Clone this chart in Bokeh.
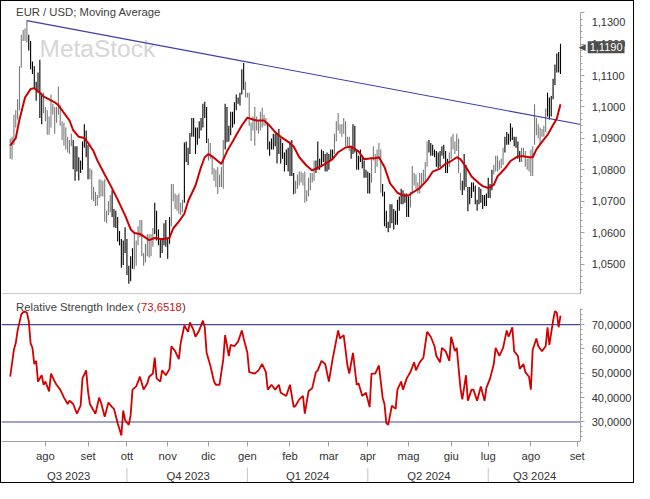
import numpy as np
import pandas as pd
from bokeh.plotting import figure
from bokeh.layouts import column
from bokeh.models import Range1d, FixedTicker, LinearAxis, Label, ColumnDataSource
from bokeh.core.properties import value
from bokeh.embed import file_html
from bokeh.resources import INLINE

# ---------------- data ----------------
CAL_START = "2023-07-03"      # trading-day counter origin
BAR_FIRST = "2023-07-05"
BAR_LAST = "2024-08-23"

high = [
    # Jul 2023
    1.0900, 1.0905, 1.0975, 1.0990, 1.1025, 1.1130, 1.1230, 1.1245, 1.1250, 1.1276,
    1.1230, 1.1210, 1.1145, 1.1130, 1.1080, 1.1110, 1.1150, 1.1045, 1.1045,
    # Aug 2023
    1.1000, 1.0990, 1.0970, 1.1040, 1.1010, 1.1000, 1.1000, 1.1065, 1.1005, 1.0955,
    1.0950, 1.0935, 1.0905, 1.0895, 1.0915, 1.0895, 1.0875, 1.0875, 1.0840, 1.0830,
    1.0890, 1.0945, 1.0925,
    # Sep 2023
    1.0880, 1.0805, 1.0800, 1.0745, 1.0730, 1.0720, 1.0770, 1.0768, 1.0765, 1.0770,
    1.0670, 1.0700, 1.0720, 1.0735, 1.0675, 1.0670, 1.0650, 1.0605, 1.0580, 1.0575,
    1.0617,
    # Oct 2023
    1.0580, 1.0495, 1.0525, 1.0550, 1.0600, 1.0575, 1.0620, 1.0640, 1.0640, 1.0535,
    1.0565, 1.0595, 1.0595, 1.0595, 1.0615, 1.0695, 1.0670, 1.0610, 1.0580, 1.0580,
    1.0630, 1.0640,
    # Nov 2023
    1.0580, 1.0650, 1.0755, 1.0755, 1.0725, 1.0720, 1.0725, 1.0695, 1.0705, 1.0887,
    1.0890, 1.0870, 1.0917, 1.0965, 1.0965, 1.0935, 1.0935, 1.0955, 1.0965, 1.1010,
    1.1017, 1.1000,
    # Dec 2023
    1.0900, 1.0885, 1.0845, 1.0805, 1.0800, 1.0810, 1.0785, 1.0810, 1.0895, 1.1010,
    1.1000, 1.0940, 1.0985, 1.0985, 1.1015, 1.1040, 1.1030, 1.1045, 1.1120, 1.1140,
    1.1080,
    # Jan 2024
    1.1045, 1.1045, 1.0950, 1.0970, 1.1000, 1.0970, 1.0955, 1.0985, 1.0998, 1.0975,
    1.0965, 1.0950, 1.0890, 1.0900, 1.0915, 1.0915, 1.0915, 1.0930, 1.0900, 1.0885,
    1.0855, 1.0865, 1.0870,
    # Feb 2024
    1.0890, 1.0895, 1.0790, 1.0765, 1.0785, 1.0795, 1.0795, 1.0790, 1.0795, 1.0735,
    1.0775, 1.0790, 1.0790, 1.0830, 1.0830, 1.0890, 1.0835, 1.0865, 1.0860, 1.0850,
    1.0855,
    # Mar 2024
    1.0850, 1.0865, 1.0865, 1.0915, 1.0955, 1.0981, 1.0945, 1.0945, 1.0965, 1.0955,
    1.0905, 1.0905, 1.0875, 1.0945, 1.0940, 1.0865, 1.0845, 1.0865, 1.0840, 1.0830,
    1.0800,
    # Apr 2024
    1.0795, 1.0790, 1.0840, 1.0875, 1.0850, 1.0865, 1.0885, 1.0865, 1.0755, 1.0730,
    1.0670, 1.0635, 1.0690, 1.0690, 1.0675, 1.0670, 1.0705, 1.0715, 1.0740, 1.0735,
    1.0725, 1.0725,
    # May 2024
    1.0715, 1.0730, 1.0812, 1.0790, 1.0785, 1.0760, 1.0790, 1.0790, 1.0800, 1.0825,
    1.0890, 1.0895, 1.0885, 1.0880, 1.0865, 1.0860, 1.0855, 1.0860, 1.0875, 1.0880,
    1.0860, 1.0835, 1.0855,
    # Jun 2024
    1.0905, 1.0915, 1.0890, 1.0915, 1.0900, 1.0790, 1.0765, 1.0850, 1.0815, 1.0745,
    1.0745, 1.0760, 1.0760, 1.0750, 1.0705, 1.0745, 1.0740, 1.0720, 1.0720, 1.0725,
    # Jul 2024
    1.0775, 1.0755, 1.0800, 1.0815, 1.0845, 1.0845, 1.0830, 1.0835, 1.0870, 1.0905,
    1.0920, 1.0915, 1.0948, 1.0935, 1.0905, 1.0905, 1.0890, 1.0860, 1.0870, 1.0870,
    1.0860, 1.0835, 1.0835,
    # Aug 2024
    1.0865, 1.0875, 1.1009, 1.0965, 1.0945, 1.0935, 1.0930, 1.0940, 1.0995, 1.1045,
    1.1030, 1.1035, 1.1090, 1.1135, 1.1170, 1.1175, 1.1201,
]

low = [
    # Jul 2023
    1.0835, 1.0833, 1.0880, 1.0935, 1.0960, 1.0990, 1.1125, 1.1210, 1.1210, 1.1205,
    1.1180, 1.1120, 1.1105, 1.1060, 1.1020, 1.1045, 1.0965, 1.0945, 1.0980,
    # Aug 2023
    1.0955, 1.0912, 1.0912, 1.0935, 1.0975, 1.0915, 1.0950, 1.0975, 1.0940, 1.0895,
    1.0877, 1.0865, 1.0855, 1.0850, 1.0875, 1.0802, 1.0765, 1.0795, 1.0766, 1.0790,
    1.0800, 1.0870, 1.0840,
    # Sep 2023
    1.0770, 1.0770, 1.0705, 1.0700, 1.0685, 1.0686, 1.0710, 1.0715, 1.0715, 1.0635,
    1.0630, 1.0655, 1.0665, 1.0650, 1.0617, 1.0615, 1.0572, 1.0560, 1.0488, 1.0497,
    1.0535,
    # Oct 2023
    1.0465, 1.0437, 1.0445, 1.0485, 1.0483, 1.0495, 1.0560, 1.0585, 1.0525, 1.0495,
    1.0505, 1.0525, 1.0520, 1.0525, 1.0555, 1.0595, 1.0575, 1.0560, 1.0520, 1.0535,
    1.0560, 1.0555,
    # Nov 2023
    1.0517, 1.0565, 1.0620, 1.0700, 1.0675, 1.0670, 1.0660, 1.0656, 1.0665, 1.0695,
    1.0825, 1.0815, 1.0850, 1.0905, 1.0905, 1.0850, 1.0880, 1.0900, 1.0925, 1.0935,
    1.0965, 1.0885,
    # Dec 2023
    1.0830, 1.0835, 1.0785, 1.0765, 1.0745, 1.0723, 1.0745, 1.0745, 1.0740, 1.0865,
    1.0888, 1.0890, 1.0910, 1.0935, 1.0945, 1.0990, 1.1010, 1.1005, 1.1040, 1.1055,
    1.1030,
    # Jan 2024
    1.1030, 1.0940, 1.0892, 1.0925, 1.0877, 1.0925, 1.0915, 1.0925, 1.0935, 1.0940,
    1.0940, 1.0865, 1.0845, 1.0865, 1.0865, 1.0875, 1.0820, 1.0850, 1.0820, 1.0835,
    1.0795, 1.0815, 1.0795,
    # Feb 2024
    1.0780, 1.0780, 1.0722, 1.0725, 1.0740, 1.0750, 1.0760, 1.0750, 1.0695, 1.0700,
    1.0715, 1.0735, 1.0760, 1.0765, 1.0790, 1.0800, 1.0800, 1.0810, 1.0825, 1.0795,
    1.0795,
    # Mar 2024
    1.0800, 1.0830, 1.0835, 1.0850, 1.0890, 1.0925, 1.0915, 1.0905, 1.0915, 1.0875,
    1.0875, 1.0860, 1.0835, 1.0850, 1.0855, 1.0800, 1.0800, 1.0825, 1.0805, 1.0775,
    1.0775,
    # Apr 2024
    1.0725, 1.0725, 1.0760, 1.0830, 1.0790, 1.0810, 1.0835, 1.0727, 1.0715, 1.0620,
    1.0615, 1.0601, 1.0615, 1.0630, 1.0610, 1.0625, 1.0625, 1.0670, 1.0690, 1.0690,
    1.0695, 1.0650,
    # May 2024
    1.0650, 1.0680, 1.0725, 1.0750, 1.0740, 1.0725, 1.0725, 1.0750, 1.0760, 1.0765,
    1.0810, 1.0855, 1.0845, 1.0845, 1.0840, 1.0810, 1.0805, 1.0810, 1.0845, 1.0835,
    1.0790, 1.0790, 1.0810,
    # Jun 2024
    1.0835, 1.0865, 1.0850, 1.0860, 1.0790, 1.0735, 1.0720, 1.0735, 1.0745, 1.0668,
    1.0690, 1.0710, 1.0730, 1.0690, 1.0670, 1.0690, 1.0695, 1.0675, 1.0685, 1.0685,
    # Jul 2024
    1.0710, 1.0710, 1.0735, 1.0785, 1.0795, 1.0795, 1.0800, 1.0805, 1.0815, 1.0855,
    1.0880, 1.0880, 1.0890, 1.0895, 1.0875, 1.0870, 1.0835, 1.0825, 1.0825, 1.0840,
    1.0810, 1.0800, 1.0795,
    # Aug 2024
    1.0780, 1.0780, 1.0880, 1.0910, 1.0900, 1.0880, 1.0905, 1.0905, 1.0920, 1.0970,
    1.0960, 1.0970, 1.1025, 1.1070, 1.1110, 1.1110, 1.1105,
]

# bar shading as runs (g = grey, k = black), in bar order
tone_runs = [("g", 10), ("k", 8), ("g", 16), ("k", 9), ("g", 12), ("k", 12), ("g", 11),
             ("k", 9), ("g", 7), ("k", 13), ("g", 9), ("k", 11), ("g", 12), ("k", 15),
             ("g", 11), ("k", 10), ("g", 9), ("k", 11), ("g", 6), ("k", 15), ("g", 10),
             ("k", 11), ("g", 7), ("k", 17), ("g", 6), ("k", 9), ("g", 14), ("k", 8)]

# moving average (trading-day number, value)
ma_day = [2, 5, 7, 10, 13, 15, 18, 20, 23, 26, 28, 31, 34, 36, 39, 42, 44, 47, 49, 53,
          56, 60, 64, 67, 69, 72, 75, 77, 80, 83, 85, 88, 90, 93, 96, 98, 102, 105, 107, 109,
          111, 114, 116, 119, 122, 124, 127, 130, 133, 135, 139, 142, 145, 148, 152, 155, 158, 162, 165, 169,
          172, 176, 179, 183, 186, 190, 193, 197, 199, 201, 204, 207, 211, 214, 217, 219, 223, 227, 230, 234,
          237, 240, 243, 245, 248, 251, 255, 257, 260, 263, 265, 269, 272, 276, 279, 282, 284, 286, 289, 292,
          294, 297, 299]
ma_val = [1.0877, 1.0901, 1.0960, 1.1030, 1.1057, 1.1060, 1.1045, 1.1033, 1.1024, 1.1015,
          1.1006, 1.0981, 1.0957, 1.0926, 1.0905, 1.0901, 1.0886, 1.0859, 1.0830, 1.0785,
          1.0752, 1.0705, 1.0655, 1.0611, 1.0599, 1.0596, 1.0584, 1.0576, 1.0583, 1.0580,
          1.0580, 1.0584, 1.0614, 1.0635, 1.0660, 1.0700, 1.0750, 1.0809, 1.0840, 1.0850,
          1.0843, 1.0828, 1.0819, 1.0859, 1.0889, 1.0911, 1.0941, 1.0966, 1.0960, 1.0957,
          1.0957, 1.0941, 1.0920, 1.0905, 1.0889, 1.0874, 1.0840, 1.0813, 1.0798, 1.0809,
          1.0819, 1.0834, 1.0856, 1.0871, 1.0874, 1.0859, 1.0834, 1.0837, 1.0837, 1.0840,
          1.0809, 1.0757, 1.0727, 1.0718, 1.0718, 1.0727, 1.0742, 1.0767, 1.0794, 1.0804,
          1.0819, 1.0828, 1.0840, 1.0834, 1.0809, 1.0779, 1.0757, 1.0748, 1.0742, 1.0752,
          1.0779, 1.0804, 1.0828, 1.0843, 1.0843, 1.0840, 1.0840, 1.0865, 1.0889, 1.0911,
          1.0932, 1.0963, 1.1009]

# RSI (trading-day number, value)
rsi_day = [2, 4, 5, 6, 8, 9, 10, 11, 12, 13, 14, 15, 16, 17, 19, 20, 21, 23, 24, 26,
           27, 29, 31, 33, 34, 36, 38, 40, 41, 43, 44, 45, 47, 48, 50, 51, 53, 55, 57, 58,
           60, 62, 63, 64, 66, 67, 68, 70, 71, 72, 74, 76, 77, 79, 80, 81, 83, 84, 86, 88,
           89, 91, 93, 94, 96, 98, 99, 101, 102, 104, 106, 107, 108, 110, 112, 113, 115, 117, 118, 120,
           121, 123, 125, 127, 128, 130, 131, 134, 136, 138, 140, 141, 143, 145, 147, 148, 151, 153, 155, 156,
           158, 160, 161, 163, 165, 167, 168, 170, 172, 174, 176, 177, 179, 180, 182, 184, 185, 187, 189, 190,
           192, 194, 196, 197, 199, 201, 203, 204, 205, 206, 208, 210, 211, 213, 214, 216, 218, 220, 221, 223,
           225, 227, 229, 231, 232, 234, 235, 237, 239, 240, 242, 243, 245, 246, 248, 249, 251, 252, 254, 256,
           258, 259, 261, 263, 264, 266, 268, 270, 271, 273, 274, 276, 277, 279, 280, 282, 283, 284, 286, 287,
           289, 291, 292, 293, 295, 296, 297, 298, 299]
rsi_val = [48.6, 59.7, 62.4, 67.6, 74.2, 75.1, 75.3, 74.9, 71.6, 62.4, 60.4, 53.8, 55.1, 46.6, 49.2, 45.3, 46.6, 42.6, 49.9, 46.6,
           45.3, 43.3, 40.0, 37.4, 38.7, 37.4, 33.4, 36.7, 47.9, 51.2, 42.6, 37.4, 34.7, 33.4, 40.0, 38.0, 32.1, 38.0, 36.1, 35.4,
           29.5, 24.5, 34.7, 30.8, 28.8, 32.8, 43.3, 44.6, 46.6, 48.6, 43.3, 45.9, 48.6, 49.9, 56.4, 47.9, 46.6, 51.2, 49.2, 51.8,
           61.1, 59.1, 55.8, 62.4, 69.6, 67.0, 70.9, 67.6, 65.0, 67.6, 71.6, 68.9, 58.4, 53.2, 46.6, 45.3, 45.3, 55.8, 65.7, 57.1,
           61.7, 61.1, 63.0, 67.6, 64.3, 58.4, 50.5, 49.9, 51.2, 53.8, 50.5, 43.3, 45.3, 43.3, 45.3, 42.0, 40.7, 45.3, 36.1, 36.7,
           39.3, 40.7, 33.4, 42.6, 43.9, 50.5, 51.2, 55.1, 53.8, 46.6, 55.8, 59.7, 67.6, 64.3, 65.7, 53.2, 49.9, 58.4, 45.3, 45.9,
           40.7, 42.0, 36.1, 49.9, 49.9, 53.2, 40.0, 37.4, 29.5, 28.8, 36.7, 35.4, 43.3, 46.6, 43.3, 47.9, 50.5, 54.5, 51.2, 54.5,
           56.4, 67.0, 65.0, 61.1, 57.1, 54.5, 60.4, 59.1, 55.1, 65.0, 59.1, 60.4, 43.9, 39.3, 49.2, 38.7, 43.3, 43.3, 38.7, 44.6,
           38.7, 44.0, 47.9, 53.8, 60.4, 57.1, 60.4, 67.6, 65.0, 68.9, 59.1, 57.1, 51.8, 53.8, 50.5, 48.6, 43.3, 59.7, 64.3, 61.1,
           59.1, 61.1, 68.9, 61.7, 71.6, 75.5, 74.9, 68.9, 73.6518]

last_close = 1.1190
rsi_last = "73,6518"
trend_day = [11, 310]
trend_price = [1.1275, 1.0944]
rsi_levels = [30, 70]

price_ticks = [1.05, 1.06, 1.07, 1.08, 1.09, 1.1, 1.11, 1.12, 1.13]
rsi_ticks = [30, 40, 50, 60, 70]
month_day = [21, 44, 65, 87, 109, 130, 153, 174, 195, 217, 240, 260, 283, 308]
month_label = ["ago", "set", "ott", "nov", "dic", "gen", "feb", "mar", "apr", "mag",
               "giu", "lug", "ago", "set"]
quarter_day = [33.5, 98, 162.5, 228, 285]
quarter_label = ["Q3 2023", "Q4 2023", "Q1 2024", "Q2 2024", "Q3 2024"]
quarter_sep_day = [65, 130, 195, 260]

# ---------------- build ----------------
dates = pd.bdate_range(BAR_FIRST, BAR_LAST)
bar_day = np.busday_count(np.datetime64(CAL_START), dates.values.astype("datetime64[D]"))
assert len(bar_day) == len(high) == len(low)
tones = []
for c, n in tone_runs:
    tones += [c] * n
assert len(tones) == len(high)
bar_color = ["#7a7a7a" if t == "g" else "#000000" for t in tones]
src = ColumnDataSource(dict(x=bar_day, high=high, low=low, color=bar_color))

FONT = "Liberation Sans"
TXT = "#333333"
AX = "#a0a0a0"
W = 632
TOP_H = 293
BOT_B = 26
BOT_H = 147 + BOT_B
QTR_H = 481 - TOP_H - BOT_H

XS, XE = -2.7, 338.4       # visible trading-day span (frame spans the whole width)
AXX = 309.9                # where the value scales sit
PY0, PY1 = 1.04031, 1.13358
RY0, RY1 = 21.99, 82.35

xr = Range1d(XS, XE)


def style_value_axis(ax):
    ax.axis_line_color = AX
    ax.major_tick_line_color = AX
    ax.minor_tick_line_color = AX
    ax.major_tick_in = 0
    ax.major_tick_out = 4
    ax.minor_tick_in = 0
    ax.minor_tick_out = 2
    ax.major_label_standoff = 7
    ax.major_label_text_font = FONT
    ax.major_label_text_font_size = "11px"
    ax.major_label_text_color = TXT


# ---------------- price panel ----------------
p = figure(width=W, height=TOP_H, x_range=xr, y_range=Range1d(PY0, PY1),
           x_axis_location=None, y_axis_location=None,
           output_backend="svg", toolbar_location=None, min_border=0)
p.grid.visible = False
p.outline_line_color = None

p.add_layout(Label(x=38, y=1.1186, x_units="screen", y_units="data", text="MetaStock",
                   text_font=FONT, text_font_size="24.5px", text_color="#d6d6d6",
                   text_baseline="alphabetic", level="underlay"))

p.segment(x0="x", y0="low", x1="x", y1="high", line_color="color", line_width=1.1, source=src)
p.line(trend_day, trend_price, line_color="#3c3cb0", line_width=1.1)
p.line(ma_day, ma_val, line_color="#cc0000", line_width=2)
# panel separator line along the bottom of the price pane
p.segment(x0=[XS], y0=[PY0 + 0.00018], x1=[AXX], y1=[PY0 + 0.00018], line_color=AX, line_width=1)

yax = LinearAxis(fixed_location=AXX,
                 ticker=FixedTicker(ticks=price_ticks,
                                    minor_ticks=[round(1.042 + 0.002 * i, 4) for i in range(45)]))
yax.major_label_overrides = {t: ("" if t == 1.13 else f"{t:.4f}".replace(".", ",")) for t in price_ticks}
yax.bounds = (1.0403, 1.1300)
style_value_axis(yax)
p.add_layout(yax, "right")

p.add_layout(Label(x=AXX, y=1.1269, x_offset=11, text="1,1300",
                   text_font=FONT, text_font_size="11px", text_color=TXT,
                   text_baseline="middle", text_align="left"))
p.add_layout(Label(x=14.6, y=1.1303, x_units="screen", y_units="data",
                   text="EUR / USD; Moving Average", text_font=FONT, text_font_size="11.3px",
                   text_color="#404040", text_baseline="alphabetic"))
# last price tag
p.add_layout(Label(x=AXX, y=last_close, x_offset=5, text="◀",
                   text_font="DejaVu Sans", text_font_size="9px", text_color="#4d4d4d",
                   text_baseline="middle", text_align="right"))
p.add_layout(Label(x=AXX, y=last_close, x_offset=7,
                   text=f"{last_close:.4f}".replace(".", ","),
                   text_font=FONT, text_font_size="11px", text_color="white",
                   background_fill_color="#4d4d4d", padding=2,
                   text_baseline="middle", text_align="left"))

# ---------------- RSI panel ----------------
q = figure(width=W, height=BOT_H, x_range=xr, y_range=Range1d(RY0, RY1),
           y_axis_location=None, output_backend="svg", toolbar_location=None,
           min_border_left=0, min_border_top=0, min_border_right=0, min_border_bottom=BOT_B)
q.grid.visible = False
q.outline_line_color = None

q.segment(x0=[XS] * len(rsi_levels), y0=rsi_levels, x1=[AXX] * len(rsi_levels), y1=rsi_levels,
          line_color="#45459c", line_width=1.2)
q.line(rsi_day, rsi_val, line_color="#d40000", line_width=1.8)

ry = LinearAxis(fixed_location=AXX,
                ticker=FixedTicker(ticks=rsi_ticks, minor_ticks=list(range(24, 77, 2))))
ry.major_label_overrides = {t: f"{t:.4f}".replace(".", ",") for t in rsi_ticks}
ry.bounds = (RY0, 76.8)
style_value_axis(ry)
q.add_layout(ry, "right")

# month axis
mx = q.xaxis[0]
mx.ticker = FixedTicker(ticks=month_day)
mx.major_label_overrides = dict(zip(month_day, month_label))
mx.bounds = (XS, AXX)
mx.axis_line_color = AX
mx.major_tick_line_color = AX
mx.major_tick_in = 0
mx.major_tick_out = 5
mx.minor_tick_out = 0
mx.minor_tick_in = 0
mx.major_label_standoff = 3
mx.major_label_text_font = FONT
mx.major_label_text_font_size = "11.3px"
mx.major_label_text_color = TXT

RT = 77.4
q.add_layout(Label(x=14.6, y=RT, x_units="screen", y_units="data",
                   text="Relative Strength Index (", text_font=FONT, text_font_size="11.3px",
                   text_color="#404040", text_baseline="alphabetic"))
q.add_layout(Label(x=139.5, y=RT, x_units="screen", y_units="data",
                   text=rsi_last, text_font=FONT, text_font_size="11.3px",
                   text_color="#cc1111", text_baseline="alphabetic"))
q.add_layout(Label(x=180.5, y=RT, x_units="screen", y_units="data",
                   text=")", text_font=FONT, text_font_size="11.3px",
                   text_color="#404040", text_baseline="alphabetic"))

# ---------------- quarter row ----------------
r = figure(width=W, height=QTR_H, x_range=xr, y_range=Range1d(0, 1),
           x_axis_location=None, y_axis_location=None,
           output_backend="svg", toolbar_location=None, min_border=0)
r.grid.visible = False
r.outline_line_color = None
r.segment(x0=quarter_sep_day, y0=[0] * len(quarter_sep_day),
          x1=quarter_sep_day, y1=[1] * len(quarter_sep_day),
          line_color="#c4c4c4", line_width=1)
r.text(x=quarter_day, y=[0.45] * len(quarter_day), text=quarter_label,
       text_font=value(FONT), text_font_size=value("11.3px"), text_color=TXT,
       text_align="center", text_baseline="middle")

layout = column(p, q, r, spacing=0, styles={"border": "1px solid #000000"})
open("out.html", "w").write(file_html(layout, INLINE))
